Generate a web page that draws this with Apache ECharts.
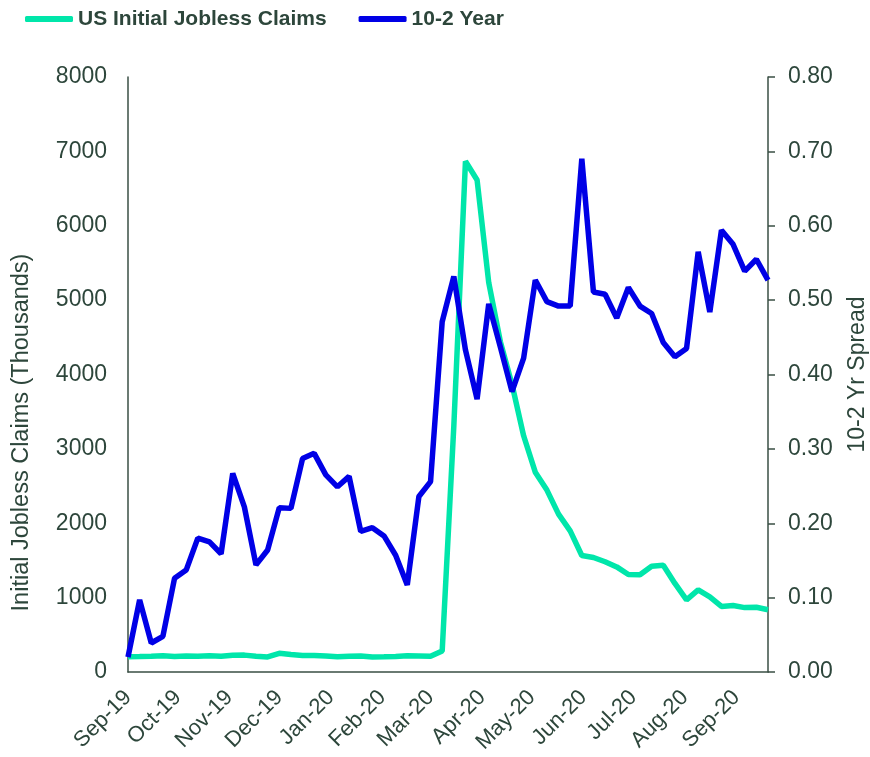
<!DOCTYPE html>
<html>
<head>
<meta charset="utf-8">
<script src="https://cdn.jsdelivr.net/npm/echarts@6/dist/echarts.min.js"></script>
<style>
  html, body { margin: 0; padding: 0; background: #fff; }
  #chart { width: 870px; height: 757px; }
</style>
</head>
<body>
<div id="chart"></div>
<script>
// weekly dates (week ending)
var weeks = [
  '2019-09-07', '2019-09-14', '2019-09-21', '2019-09-28', '2019-10-05', '2019-10-12', '2019-10-19', '2019-10-26',
  '2019-11-02', '2019-11-09', '2019-11-16', '2019-11-23', '2019-11-30', '2019-12-07', '2019-12-14', '2019-12-21',
  '2019-12-28', '2020-01-04', '2020-01-11', '2020-01-18', '2020-01-25', '2020-02-01', '2020-02-08', '2020-02-15',
  '2020-02-22', '2020-02-29', '2020-03-07', '2020-03-14', '2020-03-21', '2020-03-28', '2020-04-04', '2020-04-11',
  '2020-04-18', '2020-04-25', '2020-05-02', '2020-05-09', '2020-05-16', '2020-05-23', '2020-05-30', '2020-06-06',
  '2020-06-13', '2020-06-20', '2020-06-27', '2020-07-04', '2020-07-11', '2020-07-18', '2020-07-25', '2020-08-01',
  '2020-08-08', '2020-08-15', '2020-08-22', '2020-08-29', '2020-09-05', '2020-09-12', '2020-09-19', '2020-09-26'
];
// initial jobless claims, thousands
var claims = [
  204, 208, 213, 219, 210, 214, 212, 218, 211, 225,
  227, 213, 203, 252, 234, 222, 222, 214, 204, 211,
  216, 202, 205, 210, 219, 216, 211, 282, 3307, 6867,
  6615, 5237, 4442, 3867, 3176, 2687, 2446, 2123, 1897, 1566,
  1540, 1482, 1413, 1310, 1308, 1422, 1435, 1191, 971, 1104,
  1011, 881, 893, 866, 870, 837
];
// 10-2 year treasury spread
var spread = [
  0.020, 0.097, 0.039, 0.048, 0.126, 0.137, 0.180, 0.175, 0.159, 0.267,
  0.222, 0.144, 0.164, 0.221, 0.220, 0.287, 0.294, 0.265, 0.249, 0.263,
  0.189, 0.194, 0.183, 0.157, 0.117, 0.236, 0.256, 0.471, 0.532, 0.433,
  0.367, 0.495, 0.437, 0.377, 0.422, 0.527, 0.498, 0.492, 0.492, 0.690,
  0.511, 0.508, 0.476, 0.517, 0.492, 0.482, 0.443, 0.424, 0.435, 0.565,
  0.484, 0.594, 0.575, 0.539, 0.555, 0.527
];
var tickDates = [
  '2019-09-07', '2019-10-07', '2019-11-07', '2019-12-07', '2020-01-07', '2020-02-07', '2020-03-07',
  '2020-04-07', '2020-05-07', '2020-06-07', '2020-07-07', '2020-08-07', '2020-09-07'
];
var monthNames = ['Jan', 'Feb', 'Mar', 'Apr', 'May', 'Jun', 'Jul', 'Aug', 'Sep', 'Oct', 'Nov', 'Dec'];

var textColor = '#2d463b';
var axisColor = '#3a4f44';

function toTime(s) {
  var p = s.split('-');
  return new Date(+p[0], +p[1] - 1, +p[2]).getTime();
}

var chart = echarts.init(document.getElementById('chart'));

var option = {
  animation: false,
  textStyle: { fontFamily: 'Liberation Sans, Arial, sans-serif' },
  legend: {
    left: 20,
    top: 2,
    itemWidth: 48,
    itemHeight: 6,
    itemGap: 32,
    icon: 'roundRect',
    textStyle: { fontSize: 21, fontWeight: 'bold', color: textColor, lineHeight: 24 },
    data: ['US Initial Jobless Claims', '10-2 Year']
  },
  grid: { left: 128, right: 102, top: 77, bottom: 85, outerBoundsMode: 'none', containLabel: false },
  xAxis: {
    type: 'value',
    min: toTime(weeks[0]),
    max: toTime(weeks[weeks.length - 1]),
    axisLine: { lineStyle: { color: axisColor, width: 1.5 } },
    axisTick: { show: false },
    splitLine: { show: false },
    axisLabel: {
      customValues: tickDates.map(toTime),
      rotate: 45,
      margin: 22,
      fontSize: 22,
      color: textColor,
      showMinLabel: true,
      formatter: function (v) {
        var d = new Date(v);
        return monthNames[d.getMonth()] + '-' + String(d.getFullYear()).slice(2);
      }
    }
  },
  yAxis: [
    {
      type: 'value',
      min: 0,
      max: 8000,
      interval: 1000,
      name: 'Initial Jobless Claims (Thousands)',
      nameLocation: 'middle',
      nameGap: 94,
      nameTextStyle: { fontSize: 23.5, color: textColor, padding: [0, 116, 0, 0] },
      axisLine: { show: true, lineStyle: { color: axisColor, width: 1.5 } },
      axisTick: { show: false },
      splitLine: { show: false },
      axisLabel: {
        fontSize: 23,
        color: textColor,
        margin: 21,
        formatter: function (v) { return String(v); }
      }
    },
    {
      type: 'value',
      min: 0,
      max: 0.8,
      interval: 0.1,
      name: '10-2 Yr Spread',
      nameLocation: 'middle',
      nameGap: 78,
      nameTextStyle: { fontSize: 23, color: textColor },
      axisLine: { show: true, lineStyle: { color: axisColor, width: 1.5 } },
      axisTick: { show: true, inside: false, length: 7, lineStyle: { color: axisColor, width: 1.5 } },
      splitLine: { show: false },
      axisLabel: {
        fontSize: 23,
        color: textColor,
        margin: 20,
        formatter: function (v) { return v.toFixed(2); }
      }
    }
  ],
  series: [
    {
      name: 'US Initial Jobless Claims',
      type: 'line',
      yAxisIndex: 0,
      symbol: 'none',
      color: '#00e6aa',
      lineStyle: { width: 5.5, color: '#00e6aa' },
      data: weeks.map(function (w, i) { return [toTime(w), claims[i]]; })
    },
    {
      name: '10-2 Year',
      type: 'line',
      yAxisIndex: 1,
      symbol: 'none',
      color: '#0000e6',
      lineStyle: { width: 5.5, color: '#0000e6' },
      data: weeks.map(function (w, i) { return [toTime(w), spread[i]]; })
    }
  ]
};

chart.setOption(option);
</script>
</body>
</html>
